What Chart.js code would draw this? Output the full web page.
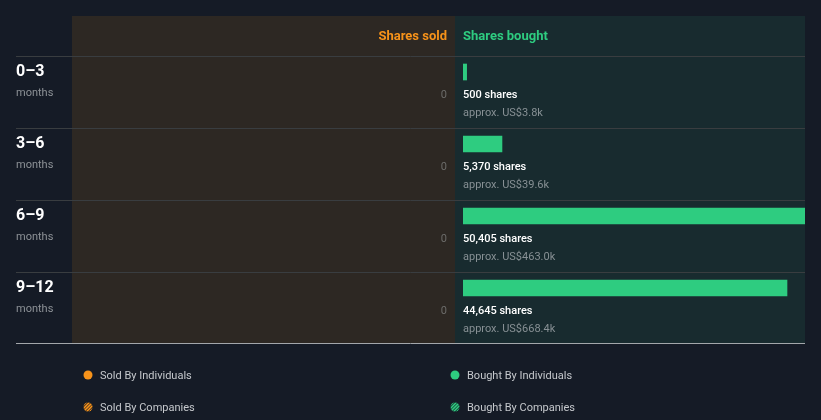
<!DOCTYPE html>
<html><head><meta charset="utf-8">
<script src="https://cdn.jsdelivr.net/npm/chart.js@4"></script>
<style>html,body{margin:0;padding:0;background:#151b26;overflow:hidden}#wrap{width:821px;height:420px;position:relative}</style>
</head><body><div id="wrap"><canvas id="c" width="821" height="420"></canvas></div>
<script>
const periods = ['0–3', '3–6', '6–9', '9–12'];
const periodUnit = 'months';
const sharesSold = [0, 0, 0, 0];
const sharesBought = [500, 5370, 50405, 44645];
const valueBought = ['US$3.8k', 'US$39.6k', 'US$463.0k', 'US$668.4k'];
const headers = ['Shares sold', 'Shares bought'];
const legendItems = ['Sold By Individuals', 'Bought By Individuals', 'Sold By Companies', 'Bought By Companies'];

const ORANGE = '#f7931a', GREEN = '#2ecc80';
const FONT = 'Roboto, "Noto Sans", sans-serif';
function fmt(n){ return n.toLocaleString('en-US'); }

function hatchDot(ctx, x, y, r, color){
  ctx.save();
  ctx.beginPath(); ctx.arc(x, y, r, 0, Math.PI*2); ctx.clip();
  ctx.fillStyle = '#151b26'; ctx.fillRect(x-r, y-r, 2*r, 2*r);
  ctx.strokeStyle = color; ctx.lineWidth = 1.6;
  for (let k = -3; k <= 3; k++) {
    ctx.beginPath();
    ctx.moveTo(x - r + k*3.2 - 4, y + r + 4);
    ctx.lineTo(x + r + k*3.2 + 4, y - r - 4);
    ctx.stroke();
  }
  ctx.restore();
}

const deco = {
  id: 'deco',
  beforeDraw(chart){
    const ctx = chart.ctx;
    ctx.save();
    ctx.fillStyle = '#151b26'; ctx.fillRect(0, 0, 821, 420);
    ctx.fillStyle = '#2d2823'; ctx.fillRect(72, 16, 383, 327);
    ctx.fillStyle = '#182b2f'; ctx.fillRect(455, 16, 350, 327);
    ctx.font = 'bold 13px ' + FONT; ctx.textBaseline = 'alphabetic';
    ctx.fillStyle = ORANGE; ctx.textAlign = 'right'; ctx.fillText(headers[0], 447, 40);
    ctx.fillStyle = GREEN; ctx.textAlign = 'left'; ctx.fillText(headers[1], 463, 40);
    const ys = chart.scales.y;
    ctx.strokeStyle = '#393d40'; ctx.lineWidth = 1;
    periods.forEach((p, i) => {
      const top = Math.round(ys.getPixelForValue(i) - 16) + 0.5;
      ctx.beginPath(); ctx.moveTo(16, top); ctx.lineTo(805, top); ctx.stroke();
    });
    ctx.restore();
  },
  afterDatasetsDraw(chart){
    const ctx = chart.ctx;
    const ys = chart.scales.y;
    ctx.save();
    ctx.strokeStyle = '#a3a7ab'; ctx.lineWidth = 1;
    ctx.beginPath(); ctx.moveTo(16, 343.5); ctx.lineTo(805, 343.5); ctx.stroke();
    ctx.textBaseline = 'alphabetic';
    periods.forEach((p, i) => {
      const c = ys.getPixelForValue(i);
      ctx.textAlign = 'left';
      ctx.font = 'bold 16px ' + FONT; ctx.fillStyle = '#ffffff';
      ctx.fillText(p, 16, c + 4);
      ctx.font = '11px ' + FONT; ctx.fillStyle = '#8d9297';
      ctx.fillText(periodUnit, 16, c + 24);
      ctx.textAlign = 'right'; ctx.fillStyle = '#6c6c6a';
      ctx.fillText(fmt(sharesSold[i]), 447, c + 26);
      ctx.textAlign = 'left';
      ctx.font = '500 11px ' + FONT; ctx.fillStyle = '#ffffff';
      ctx.fillText(fmt(sharesBought[i]) + ' shares', 463, c + 26);
      ctx.font = '11px ' + FONT; ctx.fillStyle = '#879094';
      ctx.fillText('approx. ' + valueBought[i], 463, c + 44);
    });
    // legend
    ctx.font = '11px ' + FONT; ctx.textBaseline = 'middle'; ctx.textAlign = 'left';
    const pos = [[88, 375, ORANGE, false], [455, 375, GREEN, false], [88, 407, ORANGE, true], [455, 407, GREEN, true]];
    pos.forEach(([x, y, col, hatch], k) => {
      if (hatch) hatchDot(ctx, x, y, 4.5, col);
      else { ctx.beginPath(); ctx.arc(x, y, 4.5, 0, Math.PI*2); ctx.fillStyle = col; ctx.fill(); }
      ctx.fillStyle = '#c5c8cc';
      ctx.fillText(legendItems[k], x + 12, y + 1);
    });
    ctx.restore();
  }
};

new Chart(document.getElementById('c'), {
  type: 'bar',
  data: {
    labels: periods,
    datasets: [{
      label: headers[1],
      data: sharesBought,
      backgroundColor: GREEN,
      borderWidth: 0,
      barThickness: 16,
      clip: 0
    }]
  },
  options: {
    indexAxis: 'y',
    responsive: false,
    animation: false,
    devicePixelRatio: 1,
    layout: { padding: { left: 463, right: 16, top: 36, bottom: 96 } },
    scales: {
      x: { display: false, min: 0, max: 47125 },
      y: { display: false, offset: true }
    },
    plugins: { legend: { display: false }, tooltip: { enabled: false } }
  },
  plugins: [deco]
});
</script>
</body></html>
